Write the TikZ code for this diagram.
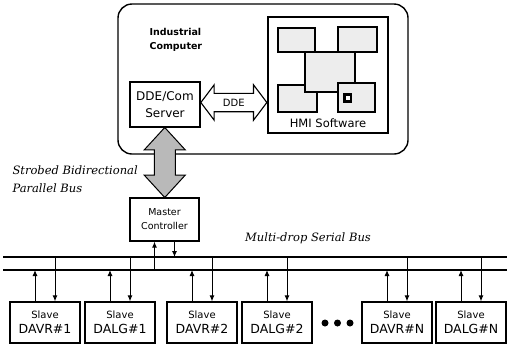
\documentclass[tikz,border=0pt]{standalone}
\usepackage{fontspec}
\setmainfont{DejaVu Sans}
\newfontfamily\busfont{DejaVu Serif}
\usetikzlibrary{positioning,arrows.meta,shapes.arrows,calc}

\begin{document}
\begin{tikzpicture}[x=1pt,y=-1pt, every node/.style={font=\fontsize{10}{12}\selectfont},
    box/.style={draw,line width=1.2pt,fill=white,align=center,inner sep=0pt},
    slavebox/.style={box,minimum width=70pt,minimum height=41pt,font=\fontsize{12.5}{15}\selectfont},
    win/.style={draw,line width=1.2pt,fill=gray!14},
    sig/.style={-{Latex[length=6pt,width=5pt]},line width=1pt},
    buslabel/.style={font=\busfont\itshape\fontsize{11.5}{18}\selectfont,align=left},
    dot/.style={circle,fill,inner sep=0pt,minimum size=7pt}]
      \useasboundingbox (0,0) rectangle (510,349);
      % industrial computer
      \node[draw,line width=1.4pt,rounded corners=14pt,minimum width=290pt,minimum height=150pt] (pc) at (263,79) {};
      \node[anchor=north west,align=left,font=\bfseries\fontsize{9.5}{14}\selectfont] (pclabel) at (146,25) {Industrial\\Computer};
      \node[box,minimum width=70pt,minimum height=45pt,font=\fontsize{12}{17}\selectfont] (srv) at (165,104.5) {DDE/Com\\Server};
      \node[draw,line width=1.8pt,minimum width=120pt,minimum height=116pt] (hmi) at (328,75) {};
      \draw[win] (278,28) rectangle (315,52);
      \draw[win] (338,27) rectangle (377,52);
      \draw[win] (278,85) rectangle (317,112);
      \draw[win] (305,52) rectangle (355,92);
      \draw[win] (338,83) rectangle (375,112);
      \fill (343,93) rectangle (352,103);
      \fill[white] (345.5,96) rectangle (349.5,100);
      \node[font=\fontsize{11.5}{14}\selectfont] (hmilabel) at (328,123) {HMI Software};
      \node[double arrow,draw,line width=1.1pt,fill=white,font=\fontsize{10}{11}\selectfont,
            inner xsep=0pt,inner ysep=5pt,double arrow head extend=8.5pt,
            double arrow tip angle=106,minimum width=35pt,minimum height=66pt] (dde) at ($(srv.east)!0.5!(srv.east -| hmi.west)+(0,-2)$) {DDE};
      % parallel bus and master
      \node[box,minimum width=69pt,minimum height=43pt,font=\fontsize{9.5}{14}\selectfont] (mc) at (164.5,219.5) {Master\\Controller};
      \node[double arrow,draw,line width=1pt,fill=gray!55,rotate=90,inner sep=10pt,
            double arrow head extend=10pt,double arrow tip angle=85,minimum width=40pt,minimum height=70pt] (pbus) at ($(srv.south)!0.5!(mc.north)$) {};
      \node[buslabel,anchor=west] (pbuslabel) at (9,179) {Strobed Bidirectional\\Parallel Bus};
      % serial bus
      \coordinate (busTL) at (3,257);
      \coordinate (busTR) at (507,257);
      \coordinate (busBL) at (3,270);
      \coordinate (busBR) at (507,270);
      \draw[line width=1.2pt] (busTL) -- (busTR);
      \draw[line width=1.2pt] (busBL) -- (busBR);
      \node[buslabel] (sbuslabel) at (308,238) {Multi-drop Serial Bus};
      \draw[sig] ([xshift=-10pt]mc.south |- busBL) -- ([xshift=-10pt]mc.south);
      \draw[sig] ([xshift=10pt]mc.south) -- ([xshift=10pt]mc.south |- busTL);
      % slaves
      \node[slavebox] (s1) at (45,322.5) {{\fontsize{10}{12}\selectfont Slave}\\DAVR\#1};
      \node[slavebox] (s2) at (120,322.5) {{\fontsize{10}{12}\selectfont Slave}\\DALG\#1};
      \node[slavebox] (s3) at (202,322.5) {{\fontsize{10}{12}\selectfont Slave}\\DAVR\#2};
      \node[slavebox] (s4) at (277,322.5) {{\fontsize{10}{12}\selectfont Slave}\\DALG\#2};
      \node[slavebox] (s5) at (397,322.5) {{\fontsize{10}{12}\selectfont Slave}\\DAVR\#N};
      \node[slavebox] (s6) at (471,322.5) {{\fontsize{10}{12}\selectfont Slave}\\DALG\#N};
      \node[dot] (d1) at (325,323) {};
      \node[dot] (d2) at (337.5,323) {};
      \node[dot] (d3) at (350,323) {};
      \draw[sig] ([xshift=-10pt]s1.north) -- ([xshift=-10pt]s1.north |- busBL);
      \draw[sig] ([xshift=10pt]s1.north |- busTL) -- ([xshift=10pt]s1.north);
      \draw[sig] ([xshift=-10pt]s2.north) -- ([xshift=-10pt]s2.north |- busBL);
      \draw[sig] ([xshift=10pt]s2.north |- busTL) -- ([xshift=10pt]s2.north);
      \draw[sig] ([xshift=-10pt]s3.north) -- ([xshift=-10pt]s3.north |- busBL);
      \draw[sig] ([xshift=10pt]s3.north |- busTL) -- ([xshift=10pt]s3.north);
      \draw[sig] ([xshift=-10pt]s4.north) -- ([xshift=-10pt]s4.north |- busBL);
      \draw[sig] ([xshift=10pt]s4.north |- busTL) -- ([xshift=10pt]s4.north);
      \draw[sig] ([xshift=-10pt]s5.north) -- ([xshift=-10pt]s5.north |- busBL);
      \draw[sig] ([xshift=10pt]s5.north |- busTL) -- ([xshift=10pt]s5.north);
      \draw[sig] ([xshift=-10pt]s6.north) -- ([xshift=-10pt]s6.north |- busBL);
      \draw[sig] ([xshift=10pt]s6.north |- busTL) -- ([xshift=10pt]s6.north);
    \end{tikzpicture}
\end{document}
